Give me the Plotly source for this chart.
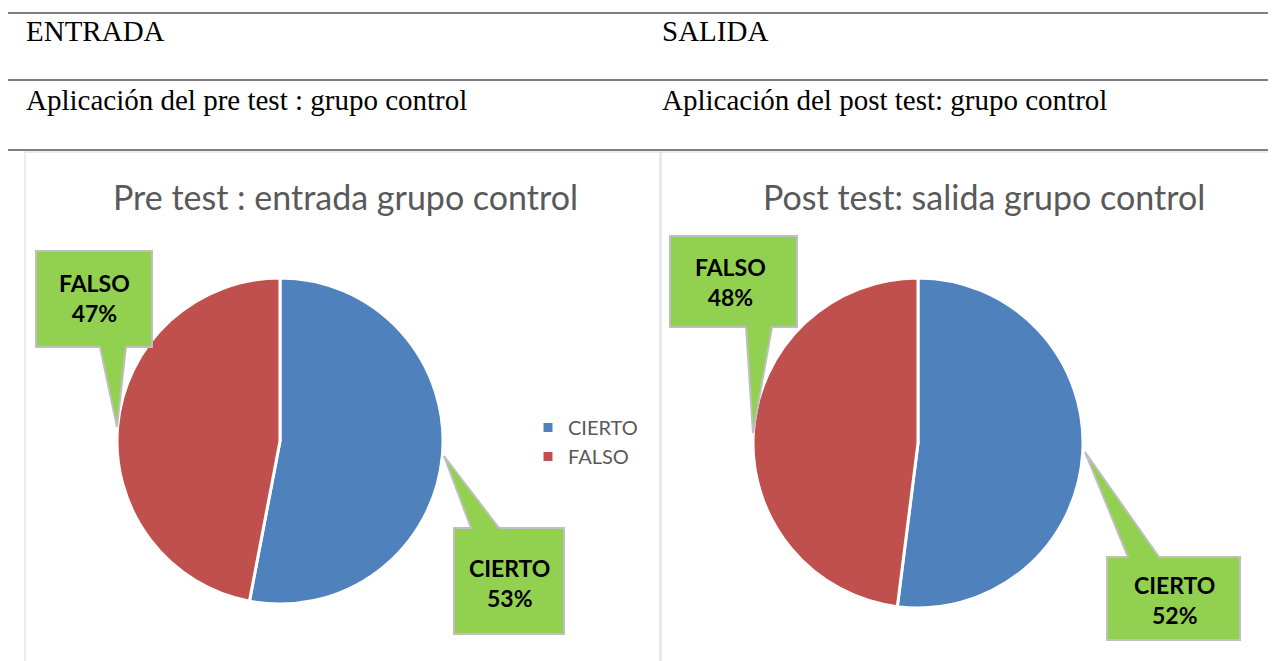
import plotly.graph_objects as go

# Chart data
categories = ["CIERTO", "FALSO"]
pre_values = [53, 47]
post_values = [52, 48]
pre_title = "Pre test : entrada grupo control"
post_title = "Post test: salida grupo control"

# Document table text
header_left = "ENTRADA"
header_right = "SALIDA"
row_left = "Aplicación del pre test : grupo control"
row_right = "Aplicación del post test: grupo control"

# page size and the 8px body margin the browser adds around the plot div
W, H = 1276, 661
OFF = 8
FW, FH = W - OFF, H - OFF

blue = "#4F81BD"
red = "#C0504D"
green = "#92D050"


def px(x):
    # page pixel -> paper x
    return (x - OFF) / FW


def py(y):
    # page pixel -> paper y
    return 1 - (y - OFF) / FH


def callout_path(box, base, tip, side):
    """Green callout: box (x0, y0, x1, y1) with a pointer from base (bx0, bx1) to tip."""
    x0, y0, x1, y1 = box
    bx0, bx1 = base
    tx, ty = tip
    if side == "bottom":
        pts = [(x0, y0), (x1, y0), (x1, y1), (bx1, y1), (tx, ty), (bx0, y1), (x0, y1)]
    else:
        pts = [(x0, y0), (bx0, y0), (tx, ty), (bx1, y0), (x1, y0), (x1, y1), (x0, y1)]
    return "M " + " L ".join(f"{px(a):.5f},{py(b):.5f}" for a, b in pts) + " Z"


fig = go.Figure()

fig.add_trace(go.Pie(labels=categories, values=pre_values, sort=False, direction="clockwise", rotation=0,
                     marker=dict(colors=[blue, red], line=dict(color="white", width=3)),
                     textinfo="none", hoverinfo="label+percent",
                     domain=dict(x=[px(117), px(443)], y=[py(604), py(278)]), legend="legend"))
fig.add_trace(go.Pie(labels=categories, values=post_values, sort=False, direction="clockwise", rotation=0,
                     marker=dict(colors=[blue, red], line=dict(color="white", width=3)),
                     textinfo="none", hoverinfo="label+percent",
                     domain=dict(x=[px(753), px(1083)], y=[py(608), py(278)]), legend="legend2"))

shapes = []
# chart frames
shapes.append(dict(type="rect", xref="paper", yref="paper", x0=px(25), x1=px(660), y0=py(700), y1=py(152),
                   line=dict(color="#D9D9D9", width=1), fillcolor="white", layer="below"))
shapes.append(dict(type="rect", xref="paper", yref="paper", x0=px(661), x1=px(1300), y0=py(700), y1=py(152),
                   line=dict(color="#D9D9D9", width=1), fillcolor="white", layer="below"))
# table lines
for y in [13, 80, 150]:
    shapes.append(dict(type="line", xref="paper", yref="paper", x0=px(8), x1=1, y0=py(y), y1=py(y),
                       line=dict(color="#7F7F7F", width=2)))

# callouts: (box, pointer base, tip, side, text centre)
callouts = [
    ((36, 251, 152, 347), (100, 126), (117, 427), "bottom", (94, 298), categories[1], pre_values[1]),
    ((454, 528, 564, 634), (471, 499), (444, 456), "top", (509, 583), categories[0], pre_values[0]),
    ((670, 236, 797, 327), (746, 772), (753, 433), "bottom", (730, 282), categories[1], post_values[1]),
    ((1107, 557, 1240, 640), (1128, 1159), (1085, 452), "top", (1174, 600), categories[0], post_values[0]),
]
annotations = []
for box, base, tip, side, c, lab, val in callouts:
    shapes.append(dict(type="path", xref="paper", yref="paper", path=callout_path(box, base, tip, side),
                       fillcolor=green, line=dict(color="#BFBFBF", width=2), layer="above"))
    annotations.append(dict(x=px(c[0]), y=py(c[1]), xref="paper", yref="paper", showarrow=False,
                            xanchor="center", yanchor="middle",
                            text=f"<b>{lab}<br>{val}%</b>", align="center",
                            font=dict(family="Lato", size=23, color="black")))

# chart titles
for x, t in [(345, pre_title), (984, post_title)]:
    annotations.append(dict(x=px(x), y=py(196), xref="paper", yref="paper", showarrow=False, text=t,
                            xanchor="center", yanchor="middle",
                            font=dict(family="Lato", size=34, color="#595959")))

# document text
serif = dict(family="Liberation Serif", size=29, color="black")
for x, y, t in [(24, 31, header_left), (660, 31, header_right), (24, 100, row_left), (660, 100, row_right)]:
    annotations.append(dict(x=px(x), y=py(y), xref="paper", yref="paper", showarrow=False, text=t,
                            xanchor="left", yanchor="middle", font=serif))

legend_style = dict(font=dict(family="Lato", size=20, color="#595959"), bgcolor="rgba(0,0,0,0)",
                    xanchor="left", yanchor="top")
fig.update_layout(
    width=FW, height=FH, margin=dict(l=0, r=0, t=0, b=0),
    paper_bgcolor="white", plot_bgcolor="white",
    shapes=shapes, annotations=annotations,
    legend=dict(x=px(528), y=py(408), **legend_style),
    legend2=dict(x=px(1168), y=py(409), **legend_style),
)

fig.write_html("out.html")
